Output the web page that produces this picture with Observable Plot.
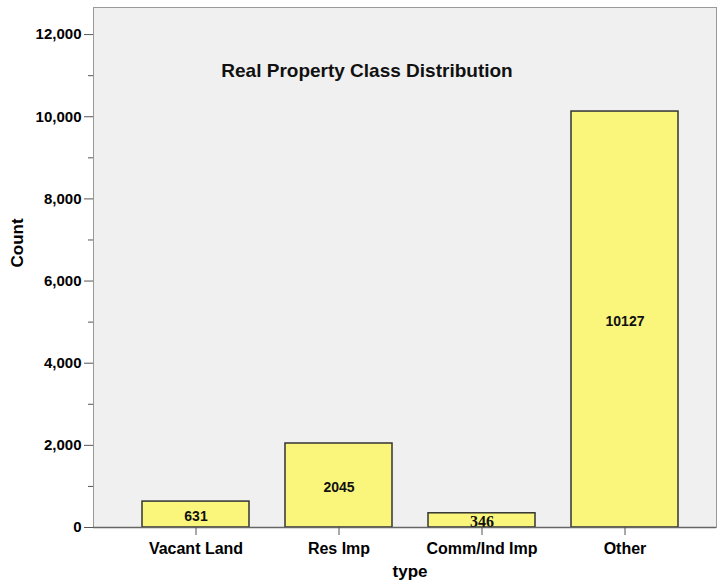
<!DOCTYPE html>
<html><head><meta charset="utf-8">
<script src="https://cdn.jsdelivr.net/npm/d3@7"></script>
<script src="https://cdn.jsdelivr.net/npm/@observablehq/plot@0.6"></script>
<style>body{margin:0;background:#fff;}</style>
</head><body><div id="chart"></div>
<script>
const categories = ["Vacant Land", "Res Imp", "Comm/Ind Imp", "Other"];
const counts = [631, 2045, 346, 10127];
const majorTicks = [0, 2000, 4000, 6000, 8000, 10000, 12000];
const minorTicks = [1000, 3000, 5000, 7000, 9000, 11000];
const title = "Real Property Class Distribution";
const xLabel = "type";
const yLabel = "Count";

const data = categories.map((c, i) => ({type: c, count: counts[i]}));
const font = "'Liberation Sans', Arial, sans-serif";

const chart = Plot.plot({
  width: 717,
  height: 585,
  marginTop: 7,
  marginLeft: 93,
  marginRight: 1,
  marginBottom: 58,
  style: {fontFamily: font, color: "#000", background: "#fff"},
  x: {domain: categories, padding: 0.25, insetLeft: 13, insetRight: 2, label: null},
  y: {domain: [0, 12660], label: null},
  marks: [
    Plot.frame({fill: "#f0f0f0", stroke: "#999"}),
    Plot.barY(data, {x: "type", y: "count", fill: "#faf67c", stroke: "#333", strokeWidth: 1.5}),
    Plot.text(data.filter(d => d.count >= 500), {x: "type", y: d => d.count / 2, text: d => String(d.count), fontSize: 14, fontWeight: "bold", fill: "#111", dy: 2}),
    Plot.text(data.filter(d => d.count < 500), {x: "type", y: d => d.count / 2, text: d => String(d.count), fontSize: 16, fontWeight: "bold", fontFamily: "'Liberation Serif', 'Times New Roman', serif", fill: "#111", dy: 1}),
    Plot.ruleY([0], {stroke: "#666", strokeWidth: 1.5}),
    Plot.axisY({ticks: majorTicks, tickSize: 9, tickPadding: 3, tickFormat: d3.format(","), fontSize: 15, fontWeight: "bold", stroke: "#555", label: null}),
    Plot.axisY({ticks: minorTicks, tickSize: 5, text: null, stroke: "#555", label: null}),
    Plot.axisX({tickSize: 8, tickPadding: 7, fontSize: 16, fontWeight: "bold", stroke: "#555", label: null}),
    Plot.text([title], {text: d => d, frameAnchor: "top", dy: 56, dx: -38, fontSize: 19, fontWeight: "bold", fill: "#111"}),
    Plot.text([yLabel], {text: d => d, frameAnchor: "left", dx: -76, rotate: -90, fontSize: 17, fontWeight: "bold", fill: "#000"}),
    Plot.text([xLabel], {text: d => d, frameAnchor: "bottom", dy: 49, dx: 5, fontSize: 17, fontWeight: "bold", fill: "#000"})
  ]
});
document.getElementById("chart").appendChild(chart);
</script>
</body></html>
